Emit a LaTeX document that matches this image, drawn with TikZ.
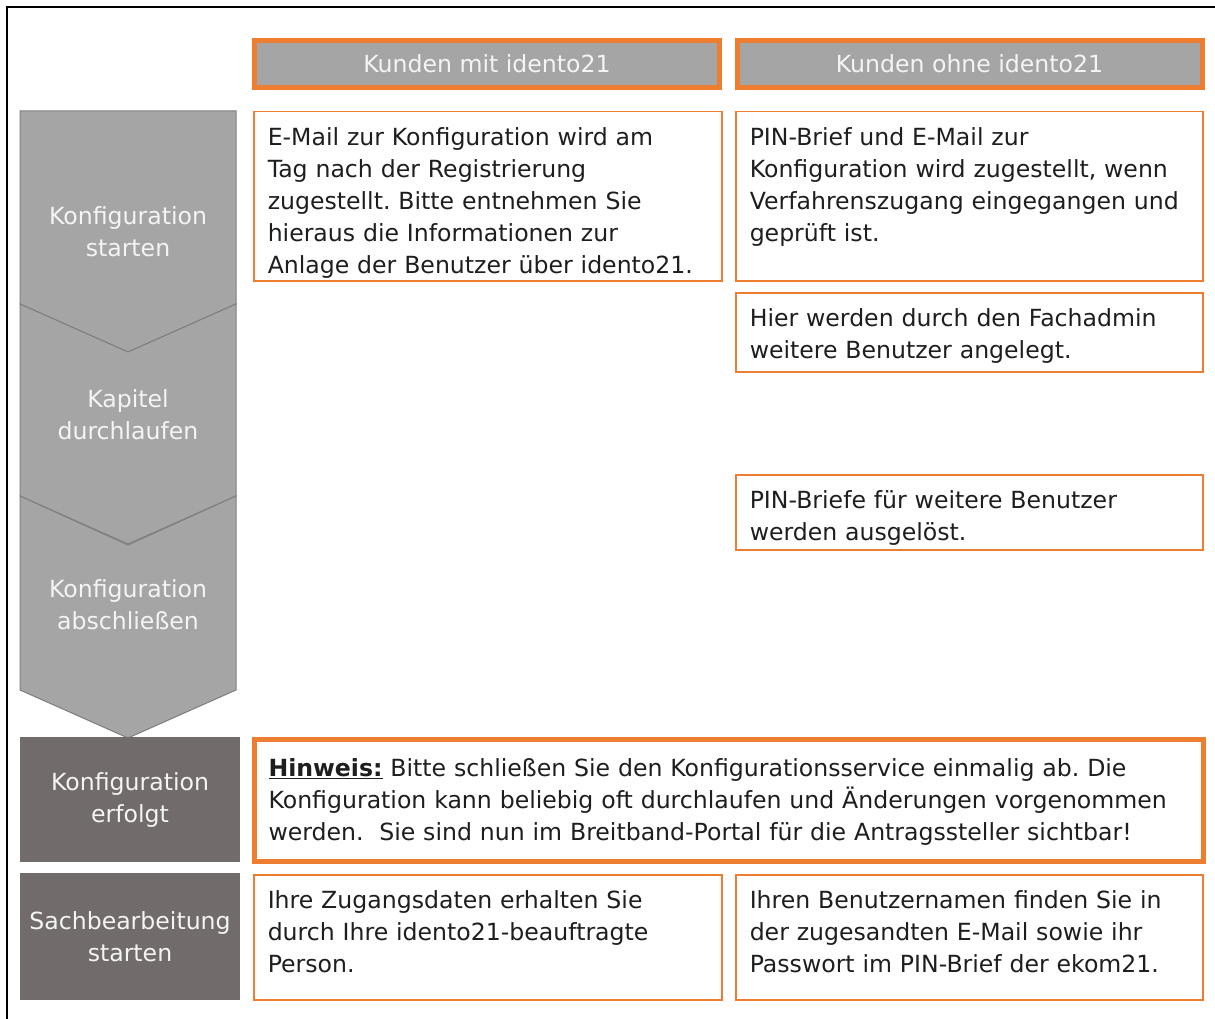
\documentclass[tikz,border=0pt]{standalone}
\usepackage{fontspec}
\setmainfont{DejaVu Sans}
\usetikzlibrary{positioning}
\definecolor{kOrange}{HTML}{ED7D31}
\definecolor{kGray}{HTML}{A5A5A5}
\definecolor{kDark}{HTML}{716C6B}
\definecolor{kLine}{HTML}{7F7F7F}
\definecolor{kText}{HTML}{1E1E1E}
\definecolor{kWhite}{HTML}{F4F4F4}
\frenchspacing

\begin{document}
\begin{tikzpicture}[x=1pt,y=-1pt,
	every node/.style={font=\fontsize{23.6}{32}\selectfont},
	head/.style={rectangle,draw=kOrange,line width=5pt,fill=kGray,text=kWhite,minimum width=465pt,minimum height=47pt,inner sep=0pt},
	info/.style={rectangle,draw=kOrange,line width=1.5pt,fill=white,text=kText,anchor=north west,align=left,inner xsep=14pt,inner ysep=4pt,text height=30pt},
	phase/.style={text=kWhite,align=center},
	done/.style={rectangle,fill=kDark,text=kWhite,align=center,minimum width=220pt,inner sep=0pt}]
		\useasboundingbox (0,0) rectangle (1215,1019);
		\draw[line width=1.5pt] (7,1019) -- (7,7) -- (1215,7);

		\foreach \top/\dip/\bot/\mid/\name/\txt in {111/0/304/232/start/{Konfiguration\\starten},304/48/496/415/kapitel/{Kapitel\\durchlaufen},496/49/690/605/ende/{Konfiguration\\abschließen}}{
			\draw[fill=kGray,draw=kLine,line width=1pt] (20,\top) -- (128,\top+\dip) -- (236,\top) -- (236,\bot) -- (128,\bot+48) -- (20,\bot) -- cycle;
			\node[phase] (\name) at (128,\mid) {\txt};
		}
		\node[done,minimum height=125pt] (erfolgt) at (130,799.5) {Konfiguration\\erfolgt};
		\node[done,minimum height=127pt] (sachbearb) at (130,936.5) {Sachbearbeitung\\starten};

		\node[head] (mit) at (487,64) {Kunden mit idento21};
		\node[head] (ohne) at (969.5,64) {Kunden ohne idento21};

		\node[info,text width=440pt,text depth=131pt] (mitMail) at (253,111) {E-Mail zur Konfiguration wird am\\Tag nach der Registrierung\\zugestellt. Bitte entnehmen Sie\\hieraus die Informationen zur\\Anlage der Benutzer über idento21.};
		\node[info,text width=439pt,text depth=131pt] (ohneBrief) at (735,111) {PIN-Brief und E-Mail zur\\Konfiguration wird zugestellt, wenn\\Verfahrenszugang eingegangen und\\geprüft ist.};
		\node[info,text width=439pt,text depth=41pt] (ohneAdmin) at (735,292) {Hier werden durch den Fachadmin\\weitere Benutzer angelegt.};
		\node[info,text width=439pt,text depth=37pt] (ohnePin) at (735,474) {PIN-Briefe für weitere Benutzer\\werden ausgelöst.};

		\node[info,line width=5pt,text width=921pt,text height=33pt,text depth=81pt] (hinweis) at (252,737) {\textbf{\underline{Hinweis:}} Bitte schließen Sie den Konfigurationsservice einmalig ab. Die\\Konfiguration kann beliebig oft durchlaufen und Änderungen vorgenommen\\werden.\ \ Sie sind nun im Breitband-Portal für die Antragssteller sichtbar!};

		\node[info,text width=440pt,text depth=87pt] (mitZugang) at (253,874) {Ihre Zugangsdaten erhalten Sie\\durch Ihre idento21-beauftragte\\Person.};
		\node[info,text width=439pt,text depth=87pt] (ohneZugang) at (735,874) {Ihren Benutzernamen finden Sie in\\der zugesandten E-Mail sowie ihr\\Passwort im PIN-Brief der ekom21.};
	\end{tikzpicture}
\end{document}
